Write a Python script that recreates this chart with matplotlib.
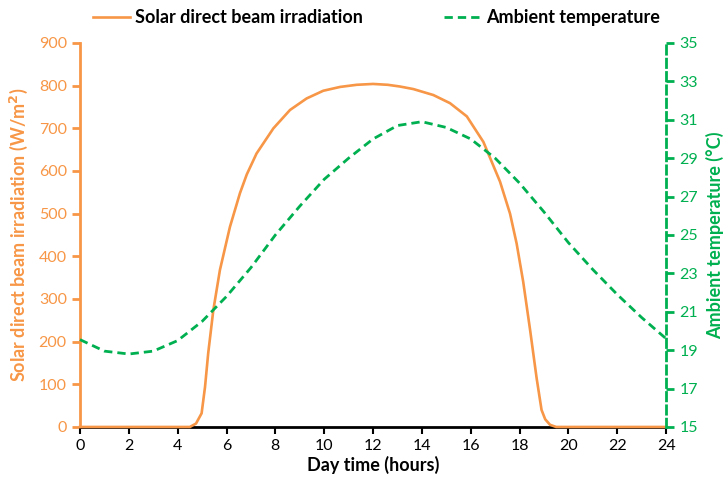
import matplotlib
matplotlib.use('Agg')
import matplotlib.pyplot as plt

plt.rcParams['font.family'] = ['Lato', 'DejaVu Sans']

orange = '#F79646'
green = '#00B050'

# solar direct beam irradiation (W/m2)
sol_h = [0, 1, 2, 3, 4, 4.5, 4.75, 4.98, 5.12, 5.25, 5.46, 5.73, 6.14, 6.55, 6.83,
         7.23, 7.92, 8.6, 9.28, 9.96, 10.65, 11.33, 12.0, 12.6, 13.1, 13.65, 14.47,
         15.15, 15.84, 16.52, 17.2, 17.61, 17.88, 18.15, 18.43, 18.7, 18.9, 19.05,
         19.25, 19.5, 20, 21, 22, 23, 24]
sol_v = [0, 0, 0, 0, 0, 0, 8, 32, 94, 173, 274, 368, 469, 548, 592,
         641, 700, 743, 770, 788, 797, 802, 804, 802, 798, 792, 778,
         759, 728, 668, 575, 500, 430, 340, 228, 114, 40, 18,
         5, 0, 0, 0, 0, 0, 0]

# ambient temperature (deg C)
tmp_h = list(range(25))
tmp_v = [19.55, 18.95, 18.8, 18.95, 19.5, 20.5, 21.8, 23.3, 25.0, 26.5, 27.9, 29.0, 30.0,
         30.7, 30.9, 30.6, 30.0, 29.0, 27.7, 26.2, 24.6, 23.2, 21.9, 20.7, 19.6]

x_ticks = list(range(0, 25, 2))
left_ticks = list(range(0, 901, 100))
right_ticks = list(range(15, 36, 2))

fig = plt.figure(figsize=(7.24, 4.83), dpi=100)
ax1 = fig.add_axes([0.1105, 0.116, 0.8095, 0.795])
ax2 = ax1.twinx()

l1, = ax1.plot(sol_h, sol_v, color=orange, lw=1.9, zorder=3, clip_on=False,
               label='Solar direct beam irradiation')
l2, = ax2.plot(tmp_h, tmp_v, color=green, lw=2, linestyle=(0, (3, 1.8)), clip_on=False,
               label='Ambient temperature')

ax1.set_xlim(0, 24)
ax1.set_ylim(0, 900)
ax2.set_ylim(15, 35)
ax1.set_xticks(x_ticks)
ax1.set_yticks(left_ticks)
ax2.set_yticks(right_ticks)

ax1.spines['top'].set_visible(False)
ax1.spines['right'].set_visible(False)
ax1.spines['left'].set_color(orange)
ax1.spines['left'].set_linewidth(2)
ax1.spines['bottom'].set_color('black')
ax1.spines['bottom'].set_linewidth(2)
for s in ['top', 'left', 'bottom']:
    ax2.spines[s].set_visible(False)
ax2.spines['right'].set_color(green)
ax2.spines['right'].set_linewidth(2)
ax2.spines['right'].set_linestyle((0, (3, 1.8)))

ax1.tick_params(axis='y', colors=orange, labelsize=11.5, width=2, length=6, direction='out')
ax1.tick_params(axis='x', colors='black', labelsize=11.5, width=1.5, length=5, direction='out')
ax2.tick_params(axis='y', colors=green, labelsize=11.5, width=2, length=6, direction='out')

ax1.set_xlabel('Day time (hours)', fontsize=13, fontweight='bold', labelpad=2)
ax1.set_ylabel('Solar direct beam irradiation (W/m$^\\mathbf{2}$)', fontsize=13,
               fontweight='bold', color=orange, labelpad=6)
ax2.set_ylabel('Ambient temperature (°C)', fontsize=13, fontweight='bold',
               color=green, rotation=90, labelpad=6)

fig.legend(handles=[l1, l2], loc='center', bbox_to_anchor=(0.52, 0.963), ncol=2,
           frameon=False, handlelength=2.0, columnspacing=4.5, handletextpad=0.3,
           prop={'size': 13, 'weight': 'bold'})

fig.savefig('out.png', dpi=100)
